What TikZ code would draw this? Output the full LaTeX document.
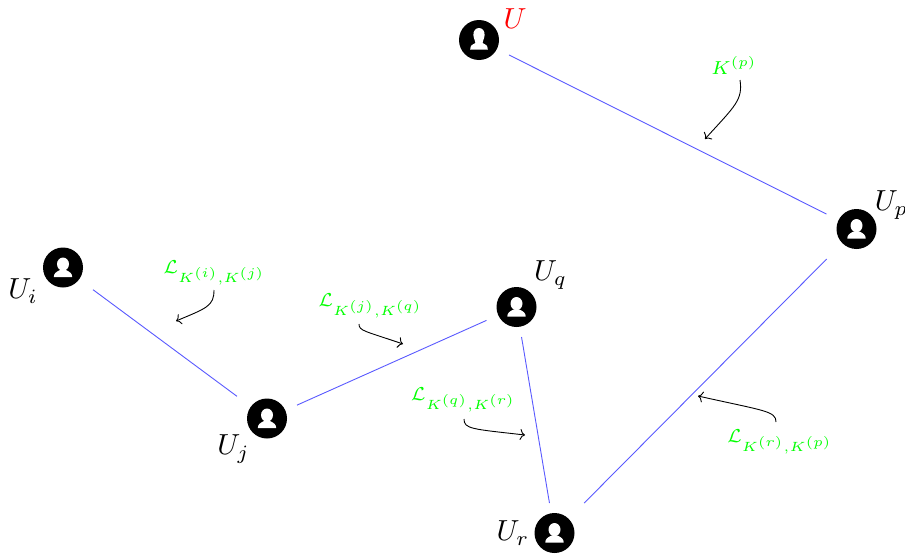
\documentclass[tikz,border=0pt]{standalone}
\usepackage{amsmath}
\usetikzlibrary{arrows.meta}
\newcommand{\userscale}[1]{\scalebox{2.9}{$#1$}}
\newcommand{\keyscale}[1]{\scalebox{2.68}{\scriptsize$#1$}}
\tikzset{
  x=1pt,y=-1pt,
  usernode/.style={rectangle,minimum size=60pt,inner sep=0pt,outer sep=0pt,
    path picture={
      \begin{scope}[shift={(path picture bounding box.center)}]
        \fill[black] (0,0) circle (20);
        \fill[white] (0,-3.4) ellipse (6 and 6.6);
        \fill[white] (-9.2,9.5) -- (9.2,9.5) .. controls (9.2,6) and (7,4.5) .. (3,2.5)
          -- (-3,2.5) .. controls (-7,4.5) and (-9.2,6) .. (-9.2,9.5) -- cycle;
      \end{scope}}},
  hairnode/.style={rectangle,minimum size=60pt,inner sep=0pt,outer sep=0pt,
    path picture={
      \begin{scope}[shift={(path picture bounding box.center)}]
        \fill[black] (0,0) circle (20);
        \fill[white] (-8.8,9.5) -- (8.8,9.5) .. controls (8.8,5.5) and (6.5,4) .. (3.6,3)
          .. controls (3.2,1.5) and (5.4,-1) .. (5.6,-5) .. controls (5.8,-9.5) and (3,-12) .. (0,-12)
          .. controls (-3,-12) and (-5.8,-9.5) .. (-5.6,-5) .. controls (-5.4,-1) and (-3.2,1.5) .. (-3.6,3)
          .. controls (-6.5,4) and (-8.8,5.5) .. (-8.8,9.5) -- cycle;
      \end{scope}}},
  linkline/.style={draw=blue!65,line width=0.9pt},
  noteline/.style={-{To[length=5pt,width=11pt]},black,line width=0.9pt},
  userlabel/.style={inner sep=0pt},
  keylabel/.style={inner sep=0pt,text=green}
}
\begin{document}
\begin{tikzpicture}
\useasboundingbox (0,0) rectangle (905,554);
\node[hairnode] (U) at (479,40) {};
\node[usernode] (Up) at (856.5,229) {};
\node[usernode] (Ui) at (63,267.5) {};
\node[usernode] (Uj) at (267,418.5) {};
\node[usernode] (Uq) at (516.5,307) {};
\node[usernode] (Ur) at (554.5,533) {};
\draw[linkline] (U) -- (Up);
\draw[linkline] (Up) -- (Ur);
\draw[linkline] (Ur) -- (Uq);
\draw[linkline] (Uq) -- (Uj);
\draw[linkline] (Uj) -- (Ui);
\node[userlabel,text=red] (lU) at (515,19) {\userscale{U}};
\node[userlabel] (lUp) at (891.5,205) {\userscale{U_p}};
\node[userlabel] (lUi) at (23,291) {\userscale{U_i}};
\node[userlabel] (lUj) at (233.5,449) {\userscale{U_j}};
\node[userlabel] (lUq) at (550.5,275) {\userscale{U_q}};
\node[userlabel] (lUr) at (513,533) {\userscale{U_r}};
\node[keylabel] (tp) at (734,65.5) {\keyscale{K^{(p)}}};
\node[keylabel] (ti) at (214.5,273) {\keyscale{\mathcal{L}_{K^{(i)},K^{(j)}}}};
\node[keylabel] (tj) at (370.5,306) {\keyscale{\mathcal{L}_{K^{(j)},K^{(q)}}}};
\node[keylabel] (tq) at (463.5,400) {\keyscale{\mathcal{L}_{K^{(q)},K^{(r)}}}};
\node[keylabel] (tr) at (780,442) {\keyscale{\mathcal{L}_{K^{(r)},K^{(p)}}}};
\coordinate (ap) at (705,139);
\coordinate (ai) at (176,321);
\coordinate (aj) at (403,344);
\coordinate (aq) at (525,435);
\coordinate (ar) at (698,396);
\coordinate (sp) at (740,80);
\coordinate (si) at (214,290);
\coordinate (sj) at (359,324);
\coordinate (sq) at (464,419);
\coordinate (sr) at (776,422);
\draw[noteline] (sp) .. controls (743,100) and (735,106) .. (ap);
\draw[noteline] (si) .. controls (214,306) and (207,308) .. (ai);
\draw[noteline] (sj) .. controls (359,331) and (365,331) .. (aj);
\draw[noteline] (sq) .. controls (464,429) and (472,429) .. (aq);
\draw[noteline] (sr) .. controls (776,411) and (765,411) .. (ar);
\end{tikzpicture}
\end{document}
